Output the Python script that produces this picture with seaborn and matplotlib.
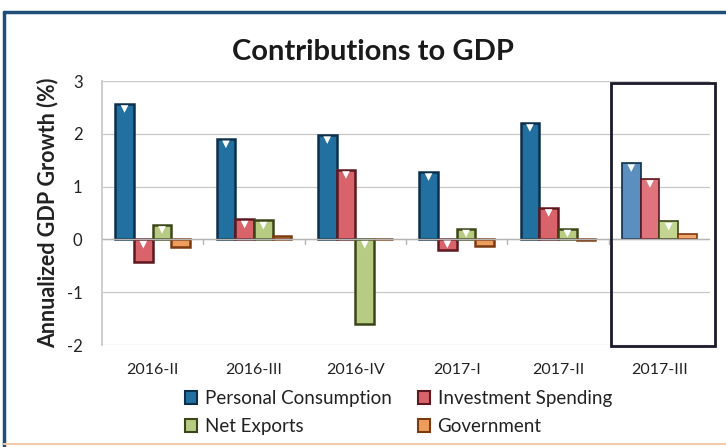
import matplotlib
matplotlib.use("Agg")
import matplotlib.pyplot as plt
from matplotlib.lines import Line2D
from matplotlib.patches import Rectangle
import seaborn as sns
import pandas as pd

quarters = ["2016-II", "2016-III", "2016-IV", "2017-I", "2017-II", "2017-III"]
series = ["Personal Consumption", "Investment Spending", "Net Exports", "Government"]
personal_consumption = [2.57, 1.90, 1.98, 1.28, 2.21, 1.45]
investment_spending = [-0.43, 0.38, 1.32, -0.21, 0.60, 1.15]
net_exports = [0.28, 0.36, -1.61, 0.20, 0.20, 0.34]
government = [-0.15, 0.07, 0.01, -0.12, -0.01, 0.11]
yticks = [-2, -1, 0, 1, 2, 3]

values = [personal_consumption, investment_spending, net_exports, government]
df = pd.DataFrame(
    [(q, s, v[i]) for s, v in zip(series, values) for i, q in enumerate(quarters)],
    columns=["quarter", "series", "value"],
)

face = {"Personal Consumption": "#22709f", "Investment Spending": "#d9636b",
        "Net Exports": "#b8cb82", "Government": "#ef9d5c"}
edge = {"Personal Consumption": "#0c2f4c", "Investment Spending": "#5e1820",
        "Net Exports": "#3a4518", "Government": "#7a3a12"}
light = {"Personal Consumption": "#5a8fbf", "Investment Spending": "#e0747c",
         "Net Exports": "#c2d48f", "Government": "#f2a66c"}

sns.set_theme(style="white")
plt.rcParams["font.family"] = ["Lato", "DejaVu Sans"]

fig = plt.figure(figsize=(7.26, 4.47), dpi=100)
ax = fig.add_axes([102 / 726, 1 - 345 / 447, 608 / 726, 264 / 447])

sns.barplot(data=df, x="quarter", y="value", hue="series", order=quarters,
            hue_order=series, palette=face, width=0.74, ax=ax, legend=False,
            saturation=1, linewidth=1.6)

# style each bar by its series; the latest quarter is drawn lighter
for j, s in enumerate(series):
    bars = ax.containers[j]
    for i, b in enumerate(bars):
        last = i == len(quarters) - 1
        b.set_facecolor(light[s] if last else face[s])
        b.set_edgecolor(edge[s])
        b.set_linewidth(1.2 if last else 1.8)
        x = b.get_x() + b.get_width() / 2
        top = max(b.get_y() + b.get_height(), b.get_y())
        h = abs(b.get_height())
        if h > 0.18:
            ax.scatter([x], [top - min(0.1, h * 0.45)], marker="v", s=30,
                       color="white", edgecolor="none", zorder=5)

ax.set_ylim(-2, 3)
ax.set_xlim(-0.5, 5.5)
ax.set_yticks(yticks)
ax.set_yticklabels([str(t) for t in yticks], fontsize=12, color="#222222")
ax.yaxis.grid(True, color="#c8c8c8", linewidth=0.9)
ax.set_axisbelow(True)
ax.axhline(0, color="#b5b5b5", linewidth=1.0, zorder=1)
for b in [0.5, 1.5, 2.5, 3.5, 4.5]:
    ax.plot([b, b], [0, -0.09], color="#b5b5b5", linewidth=1.0, zorder=1)

for sp in ["top", "right", "bottom"]:
    ax.spines[sp].set_visible(False)
ax.spines["left"].set_color("#c8c8c8")
ax.tick_params(axis="x", length=0, pad=13, labelsize=11.5, labelcolor="#222222")
ax.tick_params(axis="y", length=0, pad=14)
ax.set_xlabel("")
ax.set_ylabel("Annualized GDP Growth (%)", fontsize=15.5, fontweight="bold",
              color="#222222", labelpad=6)

# highlight box around the latest quarter
ax.add_patch(Rectangle((4.52, -2.02), 1.03, 4.98, fill=False,
                       edgecolor="#1a1a2a", linewidth=2.0, clip_on=False, zorder=6))

fig.text(373 / 726, 1 - 52 / 447, "Contributions to GDP", ha="center", va="center",
         fontsize=21, fontweight="bold", color="#1a1a1a")

# legend rows: consumption / investment, then net exports / government
order = [series[0], series[2], series[1], series[3]]
handles = [Rectangle((0, 0), 1, 1, facecolor=face[s], edgecolor=edge[s], linewidth=1.5)
           for s in order]
fig.legend(handles, order, loc="upper left", bbox_to_anchor=(170 / 726, 1 - 375 / 447),
           ncol=2, frameon=False, fontsize=13.5, handlelength=0.65, handleheight=0.65,
           handletextpad=0.4, columnspacing=1.4, labelspacing=0.6,
           labelcolor="#222222", borderpad=0.3)

# outer frame
fig.add_artist(Line2D([4 / 726, 1], [1 - 12 / 447, 1 - 12 / 447], color="#1f4e79",
                      linewidth=2.5, transform=fig.transFigure))
fig.add_artist(Line2D([4 / 726, 4 / 726], [1 - 12 / 447, 0], color="#1f4e79",
                      linewidth=2.5, transform=fig.transFigure))
fig.add_artist(Line2D([4 / 726, 1], [1 - 444 / 447, 1 - 444 / 447], color="#f5c9a8",
                      linewidth=1.5, transform=fig.transFigure))

fig.savefig("out.png", dpi=100)
